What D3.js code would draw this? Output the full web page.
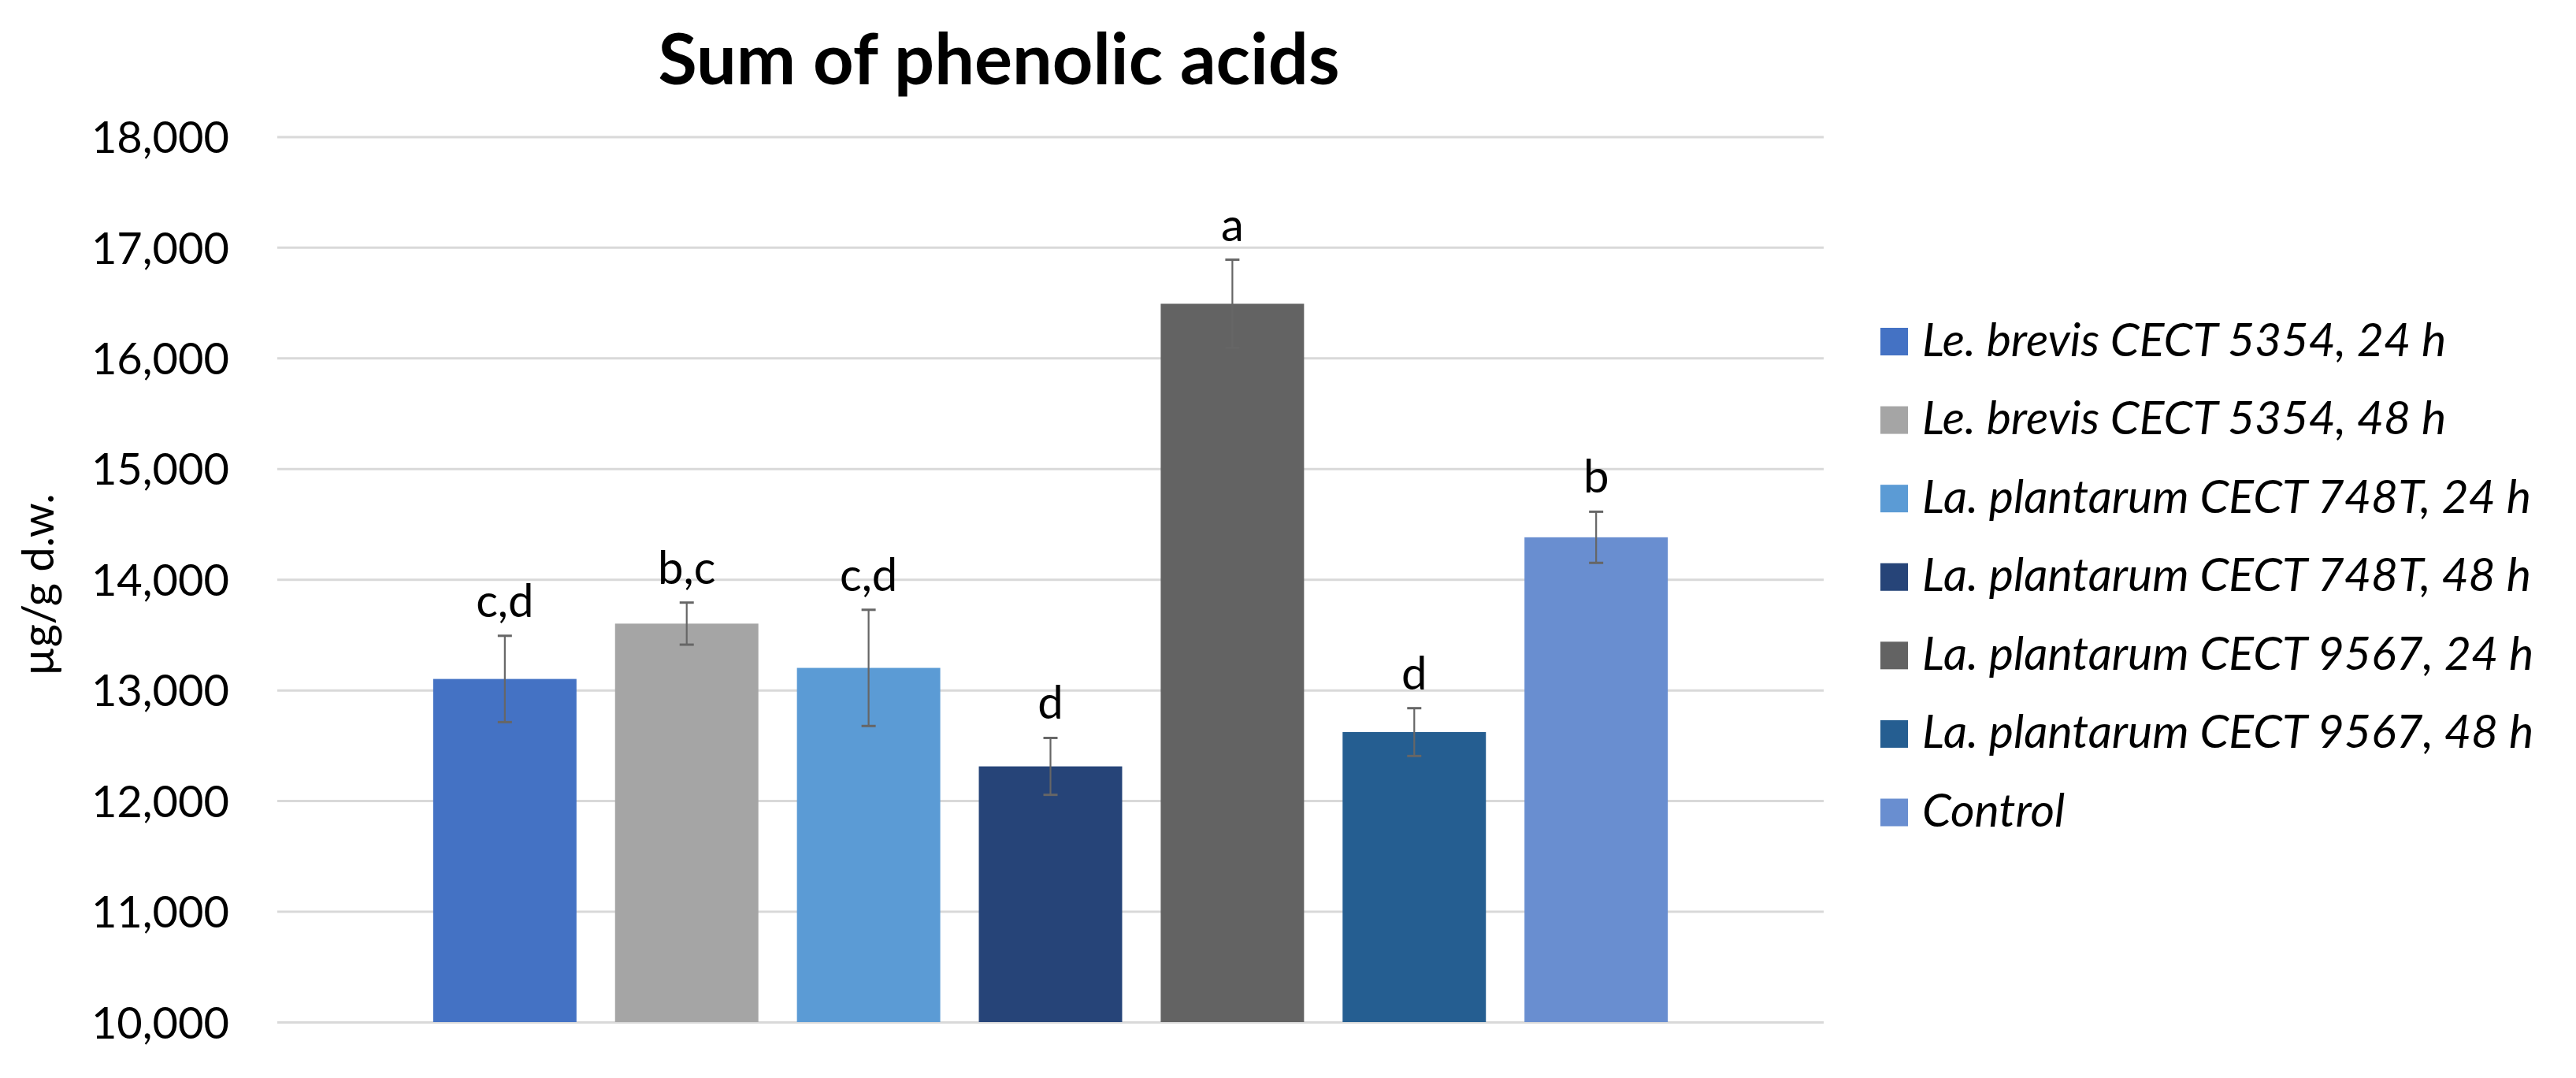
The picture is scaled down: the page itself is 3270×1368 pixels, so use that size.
<!DOCTYPE html>
<html>
<head>
<meta charset="utf-8">
<script src="https://cdn.jsdelivr.net/npm/d3@7"></script>
<style>
  html, body { margin: 0; padding: 0; background: #ffffff; }
  svg { display: block; font-family: Lato, "Open Sans", sans-serif; }
</style>
</head>
<body>
<svg id="chart" width="3270" height="1368"></svg>
<script>
// ---- data ----
const seriesNames = [
  "Le. brevis CECT 5354, 24 h",
  "Le. brevis CECT 5354, 48 h",
  "La. plantarum CECT 748T, 24 h",
  "La. plantarum CECT 748T, 48 h",
  "La. plantarum CECT 9567, 24 h",
  "La. plantarum CECT 9567, 48 h",
  "Control"
];
const values = [13100, 13600, 13200, 12310, 16490, 12620, 14380];
const errors = [390, 190, 525, 257, 398, 216, 231];
const letters = ["c,d", "b,c", "c,d", "d", "a", "d", "b"];
const colors = ["#4472C4", "#A5A5A5", "#5B9BD5", "#264478", "#636363", "#255E91", "#698ED0"];
const yTicks = [10000, 11000, 12000, 13000, 14000, 15000, 16000, 17000, 18000];
const titleText = "Sum of phenolic acids";
const yLabel = "µg/g d.w.";

// ---- layout ----
const plot = { left: 352, right: 2315, top: 173.4, bottom: 1297 };
const svg = d3.select("#chart");

const y = d3.scaleLinear().domain([10000, 18000]).range([plot.bottom, plot.top]);
const x = d3.scaleBand()
  .domain(seriesNames)
  .range([plot.left, plot.right])
  .paddingInner(0.212)
  .paddingOuter(0.857);

// gridlines + tick labels via axis
const yAxis = d3.axisLeft(y)
  .tickValues(yTicks)
  .tickFormat(d3.format(","))
  .tickSize(-(plot.right - plot.left))
  .tickPadding(61);

const gAxis = svg.append("g")
  .attr("transform", `translate(${plot.left},0)`)
  .call(yAxis);
gAxis.select(".domain").remove();
gAxis.selectAll(".tick line")
  .attr("stroke", "#D9D9D9")
  .attr("stroke-width", 3);
gAxis.selectAll(".tick text")
  .attr("fill", "#000000")
  .attr("font-size", 56)
  .attr("font-family", "Lato, sans-serif")
  .attr("dy", "0.36em");

// bars
svg.append("g").selectAll("rect")
  .data(seriesNames)
  .join("rect")
  .attr("x", d => x(d))
  .attr("width", x.bandwidth())
  .attr("y", (d, i) => y(values[i]))
  .attr("height", (d, i) => y(10000) - y(values[i]))
  .attr("fill", (d, i) => colors[i]);

// error bars
const capHalf = 9;
const eb = svg.append("g").attr("stroke", "#666666").attr("fill", "none");
seriesNames.forEach((d, i) => {
  const cx = x(d) + x.bandwidth() / 2;
  const yt = y(values[i] + errors[i]);
  const yb = y(values[i] - errors[i]);
  eb.append("line").attr("x1", cx).attr("x2", cx).attr("y1", yt).attr("y2", yb).attr("stroke-width", 2.2);
  eb.append("line").attr("x1", cx - capHalf).attr("x2", cx + capHalf).attr("y1", yt).attr("y2", yt).attr("stroke-width", 3);
  eb.append("line").attr("x1", cx - capHalf).attr("x2", cx + capHalf).attr("y1", yb).attr("y2", yb).attr("stroke-width", 3);
});

// letter labels
svg.append("g").selectAll("text")
  .data(seriesNames)
  .join("text")
  .attr("x", d => x(d) + x.bandwidth() / 2)
  .attr("y", (d, i) => y(values[i] + errors[i]) - 24)
  .attr("text-anchor", "middle")
  .attr("font-size", 58)
  .attr("fill", "#000000")
  .text((d, i) => letters[i]);

// title
svg.append("text")
  .attr("x", 1268)
  .attr("y", 107)
  .attr("text-anchor", "middle")
  .attr("font-size", 90)
  .attr("font-weight", "bold")
  .attr("fill", "#000000")
  .text(titleText);

// y-axis label
svg.append("text")
  .attr("transform", `translate(68,742) rotate(-90)`)
  .attr("text-anchor", "middle")
  .attr("font-size", 56)
  .attr("fill", "#000000")
  .text(yLabel);

// legend
const legend = svg.append("g").attr("transform", "translate(2387,0)");
const legendY = d3.scalePoint().domain(seriesNames).range([433.5, 1031]);
const items = legend.selectAll("g")
  .data(seriesNames)
  .join("g")
  .attr("transform", d => `translate(0,${legendY(d)})`);
items.append("rect")
  .attr("x", 0).attr("y", -17.5)
  .attr("width", 35).attr("height", 35)
  .attr("fill", (d, i) => colors[i]);
items.append("text")
  .attr("x", 53)
  .attr("y", 18)
  .attr("font-size", 59)
  .attr("font-style", "italic")
  .attr("fill", "#000000")
  .text(d => d);
</script>
</body>
</html>
